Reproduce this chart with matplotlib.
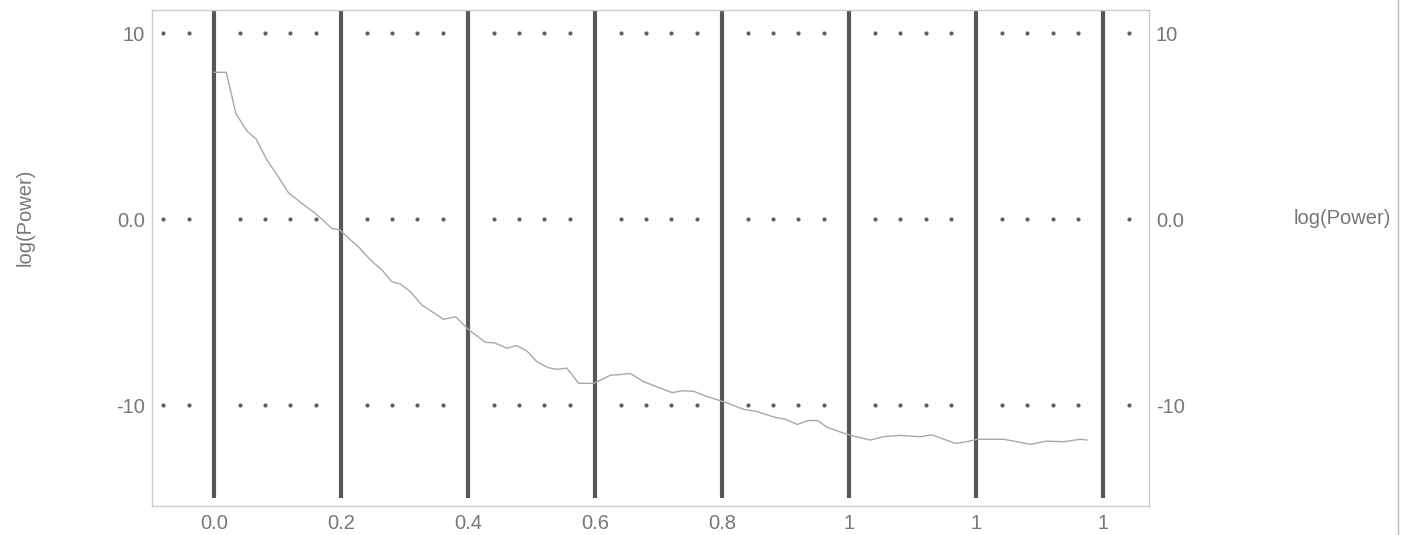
import numpy as np
import matplotlib.pyplot as plt
from matplotlib.lines import Line2D

plt.rcParams["font.family"] = ["Liberation Sans", "DejaVu Sans"]

# Spectrum: log power against frequency
freq = [0.000, 0.019, 0.034, 0.051, 0.066, 0.083, 0.099, 0.117, 0.138, 0.156,
        0.171, 0.185, 0.198, 0.209, 0.227, 0.246, 0.264, 0.280, 0.293, 0.309,
        0.327, 0.343, 0.361, 0.380, 0.400, 0.427, 0.441, 0.461, 0.476, 0.492,
        0.508, 0.526, 0.540, 0.555, 0.574, 0.597, 0.608, 0.624, 0.639, 0.655,
        0.676, 0.697, 0.721, 0.738, 0.755, 0.776, 0.802, 0.834, 0.855, 0.883,
        0.899, 0.918, 0.935, 0.950, 0.965, 0.986, 1.007, 1.033, 1.054, 1.080,
        1.112, 1.130, 1.167, 1.185, 1.201, 1.243, 1.264, 1.285, 1.311, 1.337,
        1.364, 1.374]
log_power = [7.89, 7.89, 5.68, 4.75, 4.30, 3.17, 2.37, 1.41, 0.84, 0.39,
             -0.05, -0.50, -0.59, -0.95, -1.49, -2.20, -2.74, -3.37, -3.49, -3.91,
             -4.62, -4.98, -5.39, -5.25, -5.93, -6.63, -6.65, -6.94, -6.80, -7.08,
             -7.67, -7.99, -8.08, -8.01, -8.83, -8.83, -8.66, -8.39, -8.36, -8.30,
             -8.74, -9.02, -9.33, -9.23, -9.26, -9.54, -9.82, -10.23, -10.35, -10.66,
             -10.76, -11.04, -10.83, -10.83, -11.19, -11.45, -11.67, -11.88, -11.70, -11.63,
             -11.70, -11.60, -12.06, -11.97, -11.84, -11.84, -11.97, -12.11, -11.94, -11.97,
             -11.84, -11.88]

x_ticks = [0.0, 0.2, 0.4, 0.6, 0.8, 1.0, 1.2, 1.4]
x_tick_labels = ["0.0", "0.2", "0.4", "0.6", "0.8", "1", "1", "1"]
y_ticks = [10, 0, -10]
y_tick_labels = ["10", "0.0", "-10"]

text_gray = "#777777"
font_size = 14.5

fig = plt.figure(figsize=(14.09, 5.35), dpi=100)
ax = fig.add_axes([0.1079, 0.0551, 0.7076, 0.9262])
ax.set_xlim(-0.098, 1.472)
ax.set_ylim(-15.4, 11.24)

# heavy vertical grid at each x tick
ax.vlines(x_ticks, -15.0, 11.24, color="#575757", linewidth=3.0, zorder=2)

# dotted horizontal grid, skipping spots under the heavy lines
dot_x = np.arange(-0.08, 1.45, 0.04)
steps = dot_x / 0.2
dot_x = dot_x[np.abs(steps - np.round(steps)) > 1e-6]
for yv in y_ticks:
    ax.plot(dot_x, np.full_like(dot_x, yv), linestyle="none", marker="o",
            markersize=3.0, color="#606060", markeredgewidth=0, zorder=1)

ax.plot(freq, log_power, color="#a8a8a8", linewidth=1.0, zorder=3)

for s in ax.spines.values():
    s.set_color("#cccccc")
    s.set_linewidth(1.0)

ax.set_xticks(x_ticks)
ax.set_xticklabels(x_tick_labels)
ax.set_yticks(y_ticks)
ax.set_yticklabels(y_tick_labels)
ax.tick_params(axis="both", length=0, labelsize=font_size, labelcolor=text_gray)
ax.tick_params(axis="x", pad=6)
ax.tick_params(axis="y", pad=5, labelright=True)

fig.text(25 / 1409, 0.594, "log(Power)", fontsize=font_size, color=text_gray,
         rotation=90, ha="center", va="center")
fig.text(0.987, 0.592, "log(Power)", fontsize=font_size, color=text_gray,
         ha="right", va="center")

# page edge on the right
fig.add_artist(Line2D([0.9925, 0.9925], [0, 1], color="#bbbbbb", linewidth=1.0))

fig.savefig("out.png", dpi=100)
